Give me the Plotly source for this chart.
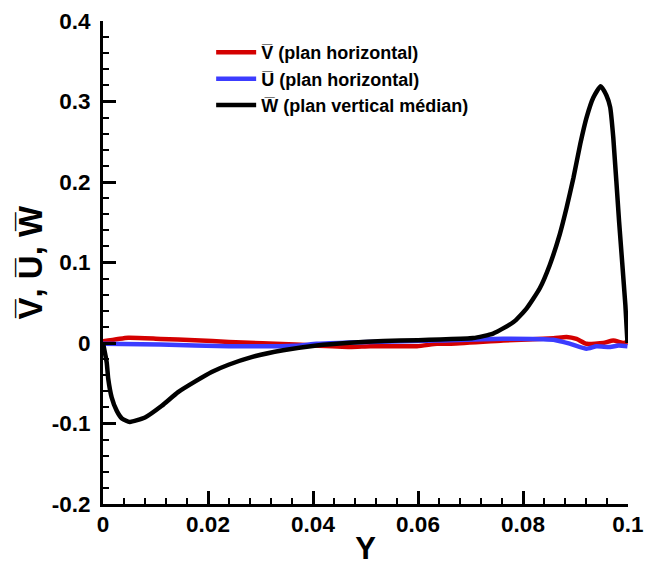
import plotly.graph_objects as go

# ---- data ----
w_y = [0.0, 0.0007, 0.001, 0.00165, 0.0026, 0.0036, 0.0051, 0.008, 0.0112, 0.0143,
       0.0175, 0.0207, 0.0239, 0.0283, 0.0343, 0.0407, 0.047, 0.0534, 0.060, 0.0642,
       0.0705, 0.0743, 0.0782, 0.0807, 0.0832, 0.0851, 0.087, 0.0883, 0.0896, 0.0909,
       0.0921, 0.0934, 0.0948, 0.0959, 0.0966, 0.0972, 0.0983, 0.0995, 0.0999]
w_val = [0.0, -0.024, -0.0446, -0.0675, -0.084, -0.0937, -0.098, -0.0925, -0.078, -0.061,
         -0.048, -0.036, -0.027, -0.0175, -0.009, -0.003, 0.0004, 0.0025, 0.0035, 0.0045,
         0.0062, 0.0117, 0.026, 0.043, 0.068, 0.097, 0.135, 0.168, 0.205, 0.247,
         0.280, 0.305, 0.319, 0.3075, 0.293, 0.255, 0.151, 0.047, 0.0]

v_y = [0.0, 0.0048, 0.011, 0.0175, 0.024, 0.0366, 0.047, 0.0509, 0.0598, 0.0636,
       0.066, 0.0762, 0.0858, 0.0883, 0.0902, 0.0921, 0.0953, 0.0972, 0.0991, 0.0999]
v_val = [0.002, 0.0066, 0.005, 0.0035, 0.0013, -0.002, -0.005, -0.004, -0.004, -0.001,
         -0.001, 0.003, 0.006, 0.0075, 0.005, -0.001, 0.0, 0.003, 0.0, 0.001]

u_y = [0.0, 0.011, 0.024, 0.0366, 0.0407, 0.047, 0.0509, 0.0636, 0.0762, 0.0858,
       0.089, 0.0921, 0.094, 0.0966, 0.0982, 0.0999]
u_val = [-0.001, -0.002, -0.004, -0.0035, -0.001, 0.0005, 0.0013, 0.003, 0.0054, 0.004,
         -0.001, -0.007, -0.004, -0.005, -0.003, -0.004]

x_tickvals = [0, 0.02, 0.04, 0.06, 0.08, 0.1]
x_ticktext = ["0", "0.02", "0.04", "0.06", "0.08", "0.1"]
y_tickvals = [-0.2, -0.1, 0, 0.1, 0.2, 0.3, 0.4]
y_ticktext = ["-0.2", "-0.1", "0", "0.1", "0.2", "0.3", "0.4"]

names = ["V\u0305 (plan horizontal)", "U\u0305 (plan horizontal)", "W\u0305 (plan vertical médian)"]
colors = ["#d40000", "#3c3cff", "#000000"]
x_title = "Y"
y_title = "V\u0305, U\u0305, W\u0305"

FONT = "Liberation Sans, Arial, sans-serif"

fig = go.Figure()
for xs, ys, nm, col in [(v_y, v_val, names[0], colors[0]),
                        (u_y, u_val, names[1], colors[1]),
                        (w_y, w_val, names[2], colors[2])]:
    fig.add_trace(go.Scatter(x=xs, y=ys, mode="lines", name=nm,
                             line=dict(color=col, width=4.5, shape="spline", smoothing=0.5)))

axis_common = dict(
    showgrid=False, zeroline=False, showline=True, linecolor="black", linewidth=3,
    ticks="inside", ticklen=13, tickwidth=2.5, tickcolor="black", automargin=False,
    tickfont=dict(family=FONT, size=22.5, color="black", weight="bold"),
)

fig.update_layout(
    width=650, height=566,
    margin=dict(l=103, r=22, t=21, b=62),
    plot_bgcolor="white", paper_bgcolor="white",
    font=dict(family=FONT, color="black"),
    xaxis=dict(range=[0, 0.1], tickvals=x_tickvals, ticktext=x_ticktext,
               minor=dict(ticks="inside", ticklen=6, tickwidth=1.5, tickcolor="black", dtick=0.004),
               title=dict(text=x_title, font=dict(family=FONT, size=31, weight="bold"), standoff=6),
               ticklabelstandoff=-2,
               **axis_common),
    yaxis=dict(range=[-0.2, 0.4], tickvals=y_tickvals, ticktext=y_ticktext,
               minor=dict(ticks="inside", ticklen=6, tickwidth=1.5, tickcolor="black", dtick=0.02),
               ticklabelstandoff=5,
               **axis_common),
    legend=dict(x=0.206, y=0.973, xanchor="left", yanchor="top",
                bgcolor="rgba(0,0,0,0)", borderwidth=0,
                font=dict(family=FONT, size=18, color="black", weight="bold"),
                tracegroupgap=0, itemwidth=40),
    showlegend=True,
)

# y-axis title placed as a rotated annotation in the left margin
fig.add_annotation(text=y_title, xref="paper", yref="paper", x=-0.139, y=0.5,
                   xanchor="center", yanchor="middle", textangle=-90, showarrow=False,
                   font=dict(family=FONT, size=33, color="black", weight="bold"))

fig.write_html("out.html", config={"displayModeBar": False},
               post_script="document.body.style.margin='0';document.body.style.overflow='hidden';")
